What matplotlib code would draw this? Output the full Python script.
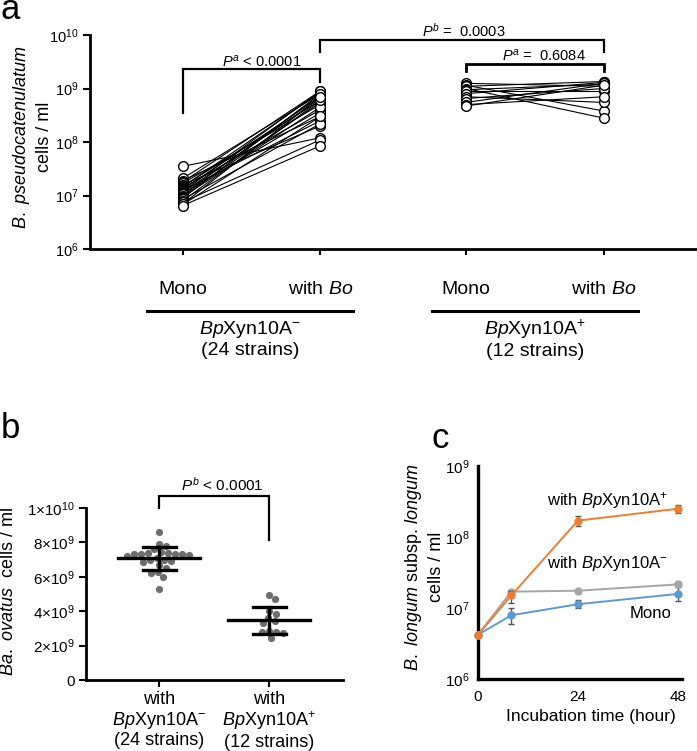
import numpy as np
import matplotlib
matplotlib.use("Agg")
import matplotlib.pyplot as plt
from matplotlib import transforms
from matplotlib.ticker import NullLocator

plt.rcParams['font.family'] = ['Liberation Sans', 'DejaVu Sans']
plt.rcParams['mathtext.fontset'] = 'custom'
plt.rcParams['mathtext.rm'] = 'Liberation Sans'
plt.rcParams['mathtext.it'] = 'Liberation Sans:italic'
plt.rcParams['mathtext.bf'] = 'Liberation Sans:bold'

# ---- panel a data (cells / ml) ----
mono_neg = [3.5e7, 2.1e7, 1.9e7, 1.8e7, 1.7e7, 1.6e7, 1.5e7, 1.45e7, 1.4e7, 1.3e7, 1.25e7, 1.2e7,
            1.15e7, 1.1e7, 1.05e7, 1.0e7, 9.5e6, 9e6, 8.5e6, 8e6, 7.5e6, 7e6, 6.8e6, 6.5e6]
bo_neg = [1.2e8, 8e8, 3e8, 9e8, 5e8, 2e8, 6e8, 8.5e8, 4e8, 7e8, 2.5e8, 9e8,
          6.5e8, 3.5e8, 7.5e8, 5.5e8, 4.5e8, 8e8, 2.2e8, 6e8, 1.1e8, 7e8, 3e8, 8.5e7]
mono_pos = [1.25e9, 1.15e9, 1.1e9, 1.0e9, 9.5e8, 9e8, 8e8, 7e8, 6.5e8, 5.5e8, 5e8, 4.7e8]
bo_pos = [1.1e9, 3.8e8, 1.35e9, 2.8e8, 1.2e9, 9e8, 1.3e9, 5.5e8, 1.0e9, 1.25e9, 7e8, 1.15e9]
a_cond_labels = ['Mono', r'with $\mathit{Bo}$', 'Mono', r'with $\mathit{Bo}$']
a_group_labels = ['$\\mathit{Bp}$Xyn10A$^{-}$\n(24 strains)', '$\\mathit{Bp}$Xyn10A$^{+}$\n(12 strains)']
a_yticks = [1e6, 1e7, 1e8, 1e9, 1e10]
a_yticklabels = ['10$^{6}$', '10$^{7}$', '10$^{8}$', '10$^{9}$', '10$^{10}$']

# ---- panel b data (Ba. ovatus cells / ml) ----
ovatus_neg = [8.6e9, 7.9e9, 7.8e9, 7.6e9, 7.45e9, 7.4e9, 7.4e9, 7.35e9, 7.35e9, 7.3e9, 7.3e9, 7.25e9,
              7.2e9, 7.1e9, 7.0e9, 6.95e9, 6.9e9, 6.85e9, 6.7e9, 6.5e9, 6.3e9, 6.2e9, 6.0e9, 5.3e9]
ovatus_pos = [4.95e9, 4.72e9, 4.0e9, 3.85e9, 3.6e9, 3.45e9, 3.3e9, 2.85e9, 2.8e9, 2.8e9, 2.75e9, 2.45e9]
b_xticklabels = ['with\n$\\mathit{Bp}$Xyn10A$^{-}$\n(24 strains)', 'with\n$\\mathit{Bp}$Xyn10A$^{+}$\n(12 strains)']
b_yticks = [0, 2e9, 4e9, 6e9, 8e9, 1e10]
b_yticklabels = ['0', '2×10$^{9}$', '4×10$^{9}$', '6×10$^{9}$', '8×10$^{9}$', '1×10$^{10}$']

# ---- panel c data (B. longum growth) ----
hours = [0, 8, 24, 48]
with_pos = [4.2e6, 1.5e7, 1.7e8, 2.5e8]
with_pos_lo = [4.2e6, 1.17e7, 1.45e8, 2.2e8]
with_pos_hi = [4.2e6, 1.75e7, 1.95e8, 2.8e8]
with_neg = [4.2e6, 1.7e7, 1.75e7, 2.15e7]
with_neg_lo = [4.2e6, 1.63e7, 1.7e7, 2.07e7]
with_neg_hi = [4.2e6, 1.78e7, 1.8e7, 2.23e7]
mono = [4.2e6, 7.9e6, 1.13e7, 1.58e7]
mono_lo = [4.2e6, 6.0e6, 9.9e6, 1.26e7]
mono_hi = [4.2e6, 9.9e6, 1.29e7, 2.0e7]
c_yticks = [1e6, 1e7, 1e8, 1e9]
c_yticklabels = ['10$^{6}$', '10$^{7}$', '10$^{8}$', '10$^{9}$']
c_xticks = [0, 24, 48]
c_line_labels = ['with $\\mathit{Bp}$Xyn10A$^{+}$', 'with $\\mathit{Bp}$Xyn10A$^{-}$', 'Mono']

W, H = 697, 751
fig = plt.figure(figsize=(W / 100, H / 100), dpi=100)


def fx(p):
    return p / W


def fy(p):
    return 1 - p / H


def box(l, t, r, b):
    return [l / W, 1 - b / H, (r - l) / W, (b - t) / H]


def bracket(ax, x0, x1, ytop, yl, yr, lw=1.6):
    ax.plot([x0, x0, x1, x1], [yl, ytop, ytop, yr], color='k', lw=lw, clip_on=False,
            solid_joinstyle='miter')


def swarm(vals, d, sy, sx, step=0.5):
    # simple beeswarm: push each dot sideways until it no longer overlaps
    pts, out = [], []
    for v in vals:
        y = v * sy
        k = 0
        while True:
            cands = [0.0] if k == 0 else [k * step, -k * step]
            ok = [c for c in cands if all((c - px) ** 2 + (y - py) ** 2 >= d * d for px, py in pts)]
            if ok:
                x = ok[0]
                break
            k += 1
        pts.append((x, y))
        out.append(x / sx)
    return np.array(out)


# ================= panel a =================
axA = fig.add_axes(box(90, 35, 697, 249))
xpos = [0, 1, 2.06, 3.06]
for m, b in zip(mono_neg, bo_neg):
    axA.plot([xpos[0], xpos[1]], [m, b], color='k', lw=0.8, zorder=2)
for m, b in zip(mono_pos, bo_pos):
    axA.plot([xpos[2], xpos[3]], [m, b], color='k', lw=0.8, zorder=2)
for x, vals in zip(xpos, [mono_neg, bo_neg, mono_pos, bo_pos]):
    axA.plot([x] * len(vals), vals, 'o', mfc='white', mec='k', ms=7, mew=1, zorder=3, clip_on=False)

axA.set_yscale('log')
axA.set_yticks(a_yticks)
axA.set_yticklabels(a_yticklabels)
axA.yaxis.set_minor_locator(NullLocator())
axA.set_xticks(xpos)
axA.set_xticklabels([])
axA.tick_params(axis='y', direction='out', length=5, width=1.5, labelsize=10.5, pad=3)
axA.tick_params(axis='x', direction='out', length=4, width=1.5)
for s in ['top', 'right']:
    axA.spines[s].set_visible(False)
for s in ['left', 'bottom']:
    axA.spines[s].set_linewidth(2)

bracket(axA, xpos[0], xpos[1], 2.27e9, 3.5e8, 1.35e9)
axA.text(0.57, 2.3e9, r'$P^{a}$ < 0.0001', ha='center', va='bottom', fontsize=10.5)
bracket(axA, xpos[1], xpos[3], 8.2e9, 4.9e9, 4.9e9)
axA.text(2.04, 8.0e9, r'$P^{b}$ =  0.0003', ha='center', va='bottom', fontsize=10.5)
bracket(axA, xpos[2], xpos[3], 2.9e9, 2.08e9, 2.08e9, lw=2)
axA.text(2.63, 2.95e9, r'$P^{a}$ =  0.6084', ha='center', va='bottom', fontsize=10.5)

tA = transforms.blended_transform_factory(axA.transData, fig.transFigure)
for x, lab in zip(xpos, a_cond_labels):
    axA.text(x, fy(289), lab, transform=tA, ha='center', va='center', fontsize=14)
for (x0, x1), lab in zip([(-0.26, 1.24), (1.81, 3.31)], a_group_labels):
    axA.plot([x0, x1], [fy(311), fy(311)], transform=tA, color='k', lw=2.2, clip_on=False)
    axA.text((x0 + x1) / 2, fy(339), lab, transform=tA, ha='center', va='center',
             fontsize=14, linespacing=1.2)
axA.set_xlim(-0.676, 3.74)
axA.set_ylim(1e6, 1e10)

fig.text(fx(32), fy(137), '$\\mathit{B.\\ pseudocatenulatum}$\ncells / ml', rotation=90,
         ha='center', va='center', fontsize=13, linespacing=1.25)
fig.text(fx(1), fy(19), 'a', fontsize=25, va='baseline')

# ================= panel b =================
axB = fig.add_axes(box(86, 508, 343, 680))
dot_col = '#6e6e6e'
for i, vals in enumerate([ovatus_neg, ovatus_pos]):
    vals = np.array(vals)
    offs = swarm(vals, 7.0, 172 / 1e10, 110)
    axB.plot(i + offs, vals, 'o', color=dot_col, ms=5.2, mew=0, zorder=2)
    m = vals.mean()
    sd = vals.std(ddof=1)
    axB.plot([i - 0.37, i + 0.37], [m, m], color='k', lw=2.4, zorder=3)
    axB.plot([i, i], [m - sd, m + sd], color='k', lw=2.4, zorder=3)
    for yy in [m - sd, m + sd]:
        axB.plot([i - 0.15, i + 0.15], [yy, yy], color='k', lw=2.4, zorder=3)

axB.set_xlim(-0.664, 1.67)
axB.set_ylim(0, 1e10)
axB.set_yticks(b_yticks)
axB.set_yticklabels(b_yticklabels)
axB.set_xticks([0, 1])
axB.set_xticklabels(b_xticklabels)
for lab in axB.get_xticklabels():
    lab.set_linespacing(1.1)
axB.tick_params(axis='y', direction='out', length=5, width=1.5, labelsize=11, pad=3)
axB.tick_params(axis='x', direction='out', length=5, width=1.5, labelsize=13, pad=3)
for s in ['top', 'right']:
    axB.spines[s].set_visible(False)
for s in ['left', 'bottom']:
    axB.spines[s].set_linewidth(2)

bracket(axB, 0, 1, 10.7e9, 10.0e9, 8.14e9)
axB.text(0.57, 10.85e9, r'$P^{b}$ < 0.0001', ha='center', va='bottom', fontsize=11)

fig.text(fx(9), fy(592), r'$\mathit{Ba.\ ovatus}$  cells / ml', rotation=90,
         ha='center', va='center', fontsize=13)
fig.text(fx(1), fy(438), 'b', fontsize=25, va='baseline')

# ================= panel c =================
axC = fig.add_axes(box(478, 466, 682, 679))
series = [
    (mono, mono_lo, mono_hi, '#5B9BD5'),
    (with_neg, with_neg_lo, with_neg_hi, '#A5A5A5'),
    (with_pos, with_pos_lo, with_pos_hi, '#ED7D31'),
]
for z, (vals, lo, hi, col) in enumerate(series):
    vals = np.array(vals)
    err = [vals - np.array(lo), np.array(hi) - vals]
    axC.errorbar(hours, vals, yerr=err, color=col, lw=1.4, marker='o', ms=5,
                 ecolor='#555555', elinewidth=1, capsize=2, capthick=1,
                 zorder=3 + z, clip_on=False)

axC.set_yscale('log')
axC.set_ylim(1e6, 1e9)
axC.set_xlim(0, 49)
axC.set_yticks(c_yticks)
axC.set_yticklabels(c_yticklabels)
axC.yaxis.set_minor_locator(NullLocator())
axC.set_xticks(c_xticks)
axC.tick_params(axis='both', length=0, labelsize=11)
axC.tick_params(axis='y', pad=6)
axC.tick_params(axis='x', pad=8)
for s in ['top', 'right']:
    axC.spines[s].set_visible(False)
for s in ['left', 'bottom']:
    axC.spines[s].set_linewidth(2.4)

for lab, (lx, ly) in zip(c_line_labels, [(16.6, 3.3e8), (16.6, 4.3e7), (36.3, 8.5e6)]):
    axC.text(lx, ly, lab, ha='left', va='center', fontsize=12)

fig.text(fx(591), fy(717), 'Incubation time (hour)', ha='center', va='center', fontsize=12.5)
fig.text(fx(424), fy(567), '$\\mathit{B.\\ longum}$ subsp. $\\mathit{longum}$\ncells / ml', rotation=90,
         ha='center', va='center', fontsize=13, linespacing=1.3)
fig.text(fx(432), fy(448), 'c', fontsize=25, va='baseline')

fig.savefig('out.png', dpi=100)
